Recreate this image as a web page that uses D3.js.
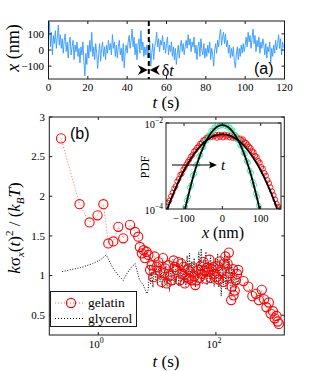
<!DOCTYPE html>
<html><head><meta charset="utf-8">
<script src="https://cdn.jsdelivr.net/npm/d3@7"></script>
<style>
body{margin:0;background:#fff}
svg{display:block}
text{font-family:"Liberation Serif","Times New Roman",serif;fill:#000}
</style>
</head><body>
<svg id="c" width="314" height="371"></svg>
<script>
// ---------- DATA ----------
// (a) trajectory x(t) in nm, sampled every 0.5 s from 0 to 120 s
const traceX = [
60,175,20,110,-30,90,40,120,10,80,
155,30,95,10,70,-20,60,100,-10,50,
-50,40,80,-30,20,60,-60,30,-10,50,
-40,10,-80,20,-30,50,-70,-160,-20,-90,
30,-50,60,-10,110,-40,20,-60,40,-20,
-115,-30,40,-70,10,50,-40,20,-60,30,
-20,60,0,40,-30,95,10,50,-40,30,
-50,20,60,-30,10,-70,40,-110,-10,30,
-20,50,90,10,60,130,20,80,-30,40,
-60,30,70,-20,120,0,50,-40,20,-30,
30,-50,10,60,-100,-20,40,-60,20,50,
110,20,70,-10,60,30,90,0,50,-20,
40,80,-30,30,-10,50,-40,20,-60,10,
-90,-20,30,-50,20,60,-10,40,-30,20,
60,10,95,30,70,-10,50,20,80,-20,
30,-60,20,50,-40,70,0,-30,40,-50,
10,-40,30,-20,50,-60,10,-30,-100,0,
40,-20,60,20,90,130,30,80,110,40,
100,20,60,-20,30,-50,10,-40,20,-70,
-110,-30,20,-60,10,-40,30,-20,40,-10,
30,80,20,110,50,90,10,70,130,40,
90,-10,60,20,80,-20,50,10,70,30,
-30,40,-50,20,-10,50,-80,10,-40,30,
-20,60,0,40,95,10,70,-30,50,20,
10];
const traceDt = 0.5;
const topXTicks = [0,20,40,60,80,100,120];
const topYTicks = [-100,0,100];
const topYLabels = ["\u2212100","0","100"];
const markT = 51;

// (b) gelatin
const gelT = [0.233,0.48,0.71,0.97,1.22,1.48,1.80,2.19,2.66,3.46,4.21,4.79,
5.1,5.5,5.9,6.2,6.6,7.1,7.6,8.1,8.6,9.1,9.8,10.5,11.2,12.0,12.6,13.2,13.8,14.5,15.5,16.6,17.8,19.1,20.0,21.4,22.9,24.5,25.7,26.9,28.2,29.5,31.6,33.1,34.7,36.3,38.9,40.7,42.7,44.7,46.8,50.1,52.5,55.0,57.5,61.7,64.6,67.6,70.8,74.1,77.6,81.3,85.1,91.2,95.5,102,107,112,117,126,132,138,145,151,158,166,174,182,186,195,200,209,219,229,240,
295,355,417,479,537,603,661,724,794,851,933,1000,1072,1122,1175];
const gelV = [2.73,1.90,1.67,1.76,1.90,1.405,1.43,1.615,1.47,1.64,1.55,1.49,
1.36,1.28,1.32,1.22,1.30,1.26,1.07,1.13,0.98,1.24,1.11,1.17,1.05,0.92,1.22,1.03,1.09,0.90,1.13,1.00,0.94,1.19,1.11,1.07,1.17,0.94,1.15,1.02,1.11,0.90,0.98,1.08,0.96,1.05,0.94,1.10,0.99,0.88,0.94,1.07,0.97,1.12,1.02,1.17,1.06,0.96,1.10,1.05,1.20,0.97,1.08,1.11,1.02,0.98,1.12,0.95,1.18,1.05,0.92,1.15,1.24,0.98,1.15,1.29,1.03,0.69,0.86,1.08,0.75,0.81,0.94,1.02,1.07,
0.93,0.86,0.74,0.77,0.69,0.82,0.70,0.60,0.66,0.52,0.55,0.46,0.49,0.42,0.39];

// (b) glycerol
const glyT = [0.243,0.50,0.80,1.10,1.36,1.75,2.2,2.65,3.1,3.7,4.24,5.0,5.8,6.7,
7.08,7.41,7.76,8.13,8.51,8.91,9.33,9.77,10.2,10.7,11.2,11.7,12.3,12.9,13.5,14.1,14.8,15.5,16.2,17.0,17.8,18.6,19.5,20.4,21.4,22.4,23.4,24.5,25.7,26.9,28.2,29.5,30.9,32.4,33.9,35.5,37.2,38.9,40.7,42.7,44.7,46.8,49.0,51.3,53.7,56.2,58.9,61.7,64.6,67.6,70.8,74.1,77.6,81.3,85.1,89.1,93.3,97.7,102,107,112,117,123,129,135,141,148,155,162,170,178,186,195,204,214,224,234,245];
const glyV = [1.05,1.10,1.15,1.20,1.26,1.10,1.00,0.94,1.03,1.11,1.15,0.95,0.88,0.77,
0.82,1.12,0.90,1.05,0.85,1.15,0.95,1.08,0.88,1.18,0.92,1.10,0.84,1.02,0.90,1.14,0.86,1.05,0.80,1.12,0.93,1.20,0.88,1.08,0.95,1.16,0.87,1.10,0.92,1.22,0.90,1.13,0.86,1.25,0.95,1.28,0.88,1.18,0.97,1.22,0.85,1.15,0.93,1.30,0.98,1.34,0.90,1.20,0.95,1.30,0.88,1.18,0.96,1.25,0.90,1.15,0.86,1.22,0.92,1.28,0.85,1.20,0.74,1.15,0.88,1.30,0.82,1.25,0.90,1.18,0.76,1.12,0.85,1.08,0.80,1.02,0.88,0.98];

const mainYTicks = [0.5,1,1.5,2,2.5,3];
const mainYLabels = ["0.5","1","1.5","2","2.5","3"];
const mainXTicks = [1,100];
const mainXExp = ["0","2"];
const seriesNames = ["gelatin","glycerol"];

// inset PDFs: x in nm, PDF values
const redX = [-150,-146,-142,-138,-134,-130,-126,-122,-118,-114,-110,-106,-102,-98,-94,-90,-86,-82,-78,-74,-70,-66,-62,-58,-54,-50,-46,-42,-38,-34,-30,-26,-22,-18,-14,-10,-6,-2,2,6,10,14,18,22,26,30,34,38,42,46,50,54,58,62,66,70,74,78,82,86,90,94,98,102,106,110,114,118,122,126,130,134,138,142,146,150,154];
const redP = [8.9e-5,1.17e-4,1.41e-4,1.58e-4,2.0e-4,2.4e-4,3.0e-4,3.4e-4,4.4e-4,5.0e-4,6.3e-4,6.6e-4,8.3e-4,9.3e-4,1.10e-3,1.26e-3,1.41e-3,1.66e-3,1.82e-3,2.19e-3,2.34e-3,2.69e-3,2.88e-3,3.31e-3,3.47e-3,3.98e-3,4.07e-3,4.57e-3,4.68e-3,5.0e-3,4.6e-3,5.2e-3,4.8e-3,5.3e-3,4.5e-3,5.4e-3,4.7e-3,5.3e-3,4.6e-3,5.4e-3,4.8e-3,5.2e-3,4.6e-3,5.1e-3,4.5e-3,4.9e-3,4.4e-3,4.7e-3,4.2e-3,4.4e-3,3.98e-3,4.17e-3,3.63e-3,3.47e-3,3.16e-3,2.82e-3,2.63e-3,2.24e-3,2.09e-3,1.74e-3,1.62e-3,1.32e-3,1.20e-3,9.5e-4,8.7e-4,6.9e-4,6.0e-4,4.7e-4,4.0e-4,3.2e-4,2.6e-4,2.1e-4,1.66e-4,1.32e-4,1.12e-4,9.5e-5,1.05e-4];
const greenX = [-97,-93,-89,-85,-81,-77,-73,-69,-65,-61,-57,-53,-49,-45,-41,-37,-33,-29,-25,-21,-17,-13,-9,-5,-1,3,7,11,15,19,23,27,31,35,39,43,47,51,55,59,63,67,71,75,79,83,87,91,95];
const greenP = [1.12e-4,1.58e-4,1.91e-4,3.16e-4,3.63e-4,6.0e-4,6.6e-4,1.05e-3,1.12e-3,1.66e-3,1.82e-3,2.63e-3,2.75e-3,3.80e-3,3.89e-3,5.13e-3,5.13e-3,6.61e-3,6.46e-3,7.94e-3,7.59e-3,9.12e-3,8.32e-3,9.77e-3,8.71e-3,9.55e-3,8.51e-3,8.91e-3,7.76e-3,7.94e-3,6.61e-3,6.76e-3,5.37e-3,5.25e-3,4.07e-3,3.98e-3,3.02e-3,2.82e-3,2.04e-3,1.91e-3,1.32e-3,1.20e-3,7.9e-4,6.9e-4,4.4e-4,3.6e-4,2.3e-4,1.91e-4,1.2e-4];
const fitWideX = [-150,-145,-130,-120,-110,-100,-90,-80,-70,-60,-50,-40,-30,-20,-10,0,10,20,30,40,50,60,70,80,90,100,110,120,130,142,148];
const fitWideP = [6.9e-5,9.2e-5,2.05e-4,3.33e-4,5.22e-4,7.85e-4,1.135e-3,1.58e-3,2.12e-3,2.73e-3,3.38e-3,4.03e-3,4.61e-3,5.08e-3,5.39e-3,5.50e-3,5.39e-3,5.08e-3,4.61e-3,4.03e-3,3.38e-3,2.73e-3,2.12e-3,1.58e-3,1.135e-3,7.85e-4,5.22e-4,3.33e-4,2.05e-4,1.09e-4,7.7e-5];
const fitNarrowX = [-102,-95,-90,-80,-70,-60,-50,-40,-30,-20,-10,0,10,20,30,40,50,60,70,80,90,95,102];
const fitNarrowP = [6.2e-5,1.2e-4,1.87e-4,4.2e-4,8.6e-4,1.6e-3,2.7e-3,4.15e-3,5.8e-3,7.36e-3,8.5e-3,8.91e-3,8.5e-3,7.36e-3,5.8e-3,4.15e-3,2.7e-3,1.6e-3,8.6e-4,4.2e-4,1.87e-4,1.2e-4,6.2e-5];
const insetXTicks = [-100,0,100];
const insetXLabels = ["\u2212100","0","100"];
const insetYTicks = [1e-4,1e-2];
const insetYExp = ["\u22124","\u22122"];

// ---------- DRAW ----------
const svg = d3.select("#c");
const AX = "#1a1a1a";
const defs = svg.append("defs");

// ===== Panel (a) =====
const xA = d3.scaleLinear([0,120],[48.5,284.5]);
const yA = d3.scaleLinear([-180,180],[79,21]);
defs.append("clipPath").attr("id","clipA").append("rect")
  .attr("x",48.5).attr("y",21).attr("width",236).attr("height",58);
const gA = svg.append("g");
const traceT = traceX.map((_, i) => i * traceDt);
gA.append("path").attr("clip-path","url(#clipA)")
  .attr("d", d3.line().x((d,i)=>xA(traceT[i])).y(d=>yA(d))(traceX))
  .attr("fill","none").attr("stroke","#3399ff").attr("stroke-width",0.9);
gA.append("rect").attr("x",48.5).attr("y",21).attr("width",236).attr("height",58)
  .attr("fill","none").attr("stroke",AX).attr("stroke-width",1);
topXTicks.forEach(t=>{
  gA.append("line").attr("x1",xA(t)).attr("x2",xA(t)).attr("y1",79).attr("y2",76).attr("stroke",AX);
  gA.append("line").attr("x1",xA(t)).attr("x2",xA(t)).attr("y1",21).attr("y2",24).attr("stroke",AX);
  gA.append("text").attr("x",xA(t)).attr("y",91).attr("text-anchor","middle").attr("font-size",11).text(t);
});
topYTicks.forEach((v,i)=>{
  gA.append("line").attr("x1",48.5).attr("x2",51.5).attr("y1",yA(v)).attr("y2",yA(v)).attr("stroke",AX);
  gA.append("line").attr("x1",284.5).attr("x2",281.5).attr("y1",yA(v)).attr("y2",yA(v)).attr("stroke",AX);
  gA.append("text").attr("x",44).attr("y",yA(v)+3.8).attr("text-anchor","end").attr("font-size",11).text(topYLabels[i]);
});
gA.append("line").attr("x1",xA(markT)).attr("x2",xA(markT)).attr("y1",21).attr("y2",79)
  .attr("stroke","#000").attr("stroke-width",2).attr("stroke-dasharray","5,3");
const ay = 70, ax = xA(markT);
gA.append("path").attr("d",`M${ax-1},${ay} L${ax-11},${ay-5} L${ax-8},${ay} L${ax-11},${ay+5} Z`).attr("fill","#000");
gA.append("path").attr("d",`M${ax+1},${ay} L${ax+11},${ay-5} L${ax+8},${ay} L${ax+11},${ay+5} Z`).attr("fill","#000");
const dt = gA.append("text").attr("x",ax+13).attr("y",ay+5.5).attr("font-size",16);
dt.append("tspan").text("\u03b4");
dt.append("tspan").attr("font-style","italic").text("t");
gA.append("text").attr("x",254).attr("y",74).attr("font-size",16)
  .style("font-family","'Liberation Sans',Arial,sans-serif").text("(a)");
const ylA = gA.append("text").attr("transform","translate(19,48) rotate(-90)").attr("text-anchor","middle").attr("font-size",18);
ylA.append("tspan").attr("font-style","italic").text("x");
ylA.append("tspan").text(" (nm)");
const xlA = gA.append("text").attr("x",166).attr("y",108).attr("text-anchor","middle").attr("font-size",17);
xlA.append("tspan").attr("font-style","italic").text("t");
xlA.append("tspan").text(" (s)");

// ===== Panel (b) =====
const xB = d3.scaleLog([Math.pow(10,-0.833), Math.pow(10,3.163)],[49.3,284.3]);
const yB = d3.scaleLinear([0.25,3],[335,117]);
defs.append("clipPath").attr("id","clipB").append("rect")
  .attr("x",49.3).attr("y",117).attr("width",235).attr("height",218);
const gB = svg.append("g");
const gBc = gB.append("g").attr("clip-path","url(#clipB)");
gBc.append("path").attr("d", d3.line().x((d,i)=>xB(glyT[i])).y(d=>yB(d))(glyV))
  .attr("fill","none").attr("stroke","#000").attr("stroke-width",1).attr("stroke-dasharray","1,1.6");
gBc.append("path").attr("d", d3.line().x((d,i)=>xB(gelT[i])).y(d=>yB(d))(gelV))
  .attr("fill","none").attr("stroke","#ff6666").attr("stroke-width",1).attr("stroke-dasharray","1,2");
gBc.selectAll("circle.gel").data(gelV).enter().append("circle")
  .attr("cx",(d,i)=>xB(gelT[i])).attr("cy",d=>yB(d)).attr("r",4.6)
  .attr("fill","none").attr("stroke","#ff0000").attr("stroke-width",1.1);
gB.append("rect").attr("x",49.3).attr("y",117).attr("width",235).attr("height",218)
  .attr("fill","none").attr("stroke",AX).attr("stroke-width",1);
mainYTicks.forEach((v,i)=>{
  gB.append("line").attr("x1",49.3).attr("x2",52.3).attr("y1",yB(v)).attr("y2",yB(v)).attr("stroke",AX);
  gB.append("line").attr("x1",284.3).attr("x2",281.3).attr("y1",yB(v)).attr("y2",yB(v)).attr("stroke",AX);
  gB.append("text").attr("x",45).attr("y",yB(v)+3.8).attr("text-anchor","end").attr("font-size",11).text(mainYLabels[i]);
});
mainXTicks.forEach((t,i)=>{
  gB.append("line").attr("x1",xB(t)).attr("x2",xB(t)).attr("y1",335).attr("y2",332).attr("stroke",AX);
  gB.append("line").attr("x1",xB(t)).attr("x2",xB(t)).attr("y1",117).attr("y2",120).attr("stroke",AX);
  const tx = gB.append("text").attr("x",xB(t)-2).attr("y",347.5).attr("text-anchor","middle").attr("font-size",11);
  tx.append("tspan").text("10");
  tx.append("tspan").attr("font-size",8).attr("dy",-5).text(mainXExp[i]);
});
gB.append("text").attr("x",70).attr("y",139).attr("font-size",16)
  .style("font-family","'Liberation Sans',Arial,sans-serif").text("(b)");
const ylB = gB.append("text").attr("transform","translate(20,228) rotate(-90)").attr("text-anchor","middle").attr("font-size",17);
ylB.append("tspan").attr("font-style","italic").text("k");
ylB.append("tspan").text("\u03c3");
ylB.append("tspan").attr("font-style","italic").attr("font-size",11).attr("dy",4).text("x");
ylB.append("tspan").attr("dy",-4).text("(");
ylB.append("tspan").attr("font-style","italic").text("t");
ylB.append("tspan").text(")");
ylB.append("tspan").attr("font-size",11).attr("dy",-7).text("2");
ylB.append("tspan").attr("dy",7).text(" / (");
ylB.append("tspan").attr("font-style","italic").text("k");
ylB.append("tspan").attr("font-style","italic").attr("font-size",11).attr("dy",4).text("B");
ylB.append("tspan").attr("font-style","italic").attr("dy",-4).text("T");
ylB.append("tspan").text(")");
const xlB = gB.append("text").attr("x",166).attr("y",367).attr("text-anchor","middle").attr("font-size",17);
xlB.append("tspan").attr("font-style","italic").text("t");
xlB.append("tspan").text(" (s)");

const lg = gB.append("g");
lg.append("rect").attr("x",50.5).attr("y",291.5).attr("width",86).attr("height",35)
  .attr("fill","#fff").attr("stroke",AX).attr("stroke-width",1);
lg.append("line").attr("x1",55).attr("x2",85).attr("y1",303).attr("y2",303)
  .attr("stroke","#ff6666").attr("stroke-dasharray","1,2");
lg.append("circle").attr("cx",71).attr("cy",303).attr("r",4.6).attr("fill","none").attr("stroke","#ff0000").attr("stroke-width",1.1);
lg.append("line").attr("x1",55).attr("x2",85).attr("y1",318.5).attr("y2",318.5)
  .attr("stroke","#000").attr("stroke-dasharray","1,2");
lg.append("text").attr("x",88).attr("y",307).attr("font-size",13.5).text(seriesNames[0]);
lg.append("text").attr("x",88).attr("y",322.5).attr("font-size",13.5).text(seriesNames[1]);

// ===== Inset =====
const xI = d3.scaleLinear([-147,153],[166,281]);
const yI = d3.scaleLog([1e-4,1e-2],[209,123]);
defs.append("clipPath").attr("id","clipI").append("rect")
  .attr("x",166).attr("y",123).attr("width",115).attr("height",86);
const gI = svg.append("g");
gI.append("rect").attr("x",166).attr("y",123).attr("width",115).attr("height",86).attr("fill","#fff");
const gIc = gI.append("g").attr("clip-path","url(#clipI)");
gIc.selectAll("circle.r").data(redP).enter().append("circle")
  .attr("cx",(d,i)=>xI(redX[i])).attr("cy",d=>yI(d)).attr("r",2.4)
  .attr("fill","none").attr("stroke","#ff0000").attr("stroke-width",0.9);
gIc.selectAll("circle.g").data(greenP).enter().append("circle")
  .attr("cx",(d,i)=>xI(greenX[i])).attr("cy",d=>yI(d)).attr("r",2.4)
  .attr("fill","none").attr("stroke","#3fe6a8").attr("stroke-width",1);
gIc.append("path").attr("d", d3.line().curve(d3.curveCatmullRom).x((d,i)=>xI(fitWideX[i])).y(d=>yI(d))(fitWideP))
  .attr("fill","none").attr("stroke","#000").attr("stroke-width",1.8);
gIc.append("path").attr("d", d3.line().curve(d3.curveCatmullRom).x((d,i)=>xI(fitNarrowX[i])).y(d=>yI(d))(fitNarrowP))
  .attr("fill","none").attr("stroke","#000").attr("stroke-width",1.8);
gI.append("rect").attr("x",166).attr("y",123).attr("width",115).attr("height",86)
  .attr("fill","none").attr("stroke",AX).attr("stroke-width",1);
insetXTicks.forEach((v,i)=>{
  gI.append("line").attr("x1",xI(v)).attr("x2",xI(v)).attr("y1",209).attr("y2",206).attr("stroke",AX);
  gI.append("line").attr("x1",xI(v)).attr("x2",xI(v)).attr("y1",123).attr("y2",126).attr("stroke",AX);
  gI.append("text").attr("x",xI(v)).attr("y",222).attr("text-anchor","middle").attr("font-size",10.5).text(insetXLabels[i]);
});
insetYTicks.forEach((v,i)=>{
  gI.append("line").attr("x1",166).attr("x2",169).attr("y1",yI(v)).attr("y2",yI(v)).attr("stroke",AX);
  gI.append("line").attr("x1",281).attr("x2",278).attr("y1",yI(v)).attr("y2",yI(v)).attr("stroke",AX);
  const tx = gI.append("text").attr("x",163).attr("y",yI(v)+4.5).attr("text-anchor","end").attr("font-size",10.5);
  tx.append("tspan").text("10");
  tx.append("tspan").attr("font-size",7.5).attr("dy",-5).text(insetYExp[i]);
});
gI.append("text").attr("transform","translate(149,167) rotate(-90)").attr("text-anchor","middle").attr("font-size",12.5).text("PDF");
const xlI = gI.append("text").attr("x",223).attr("y",237.5).attr("text-anchor","middle").attr("font-size",16);
xlI.append("tspan").attr("font-style","italic").text("x");
xlI.append("tspan").text(" (nm)");
gI.append("line").attr("x1",172).attr("x2",212).attr("y1",165).attr("y2",165).attr("stroke","#000").attr("stroke-width",1.2);
gI.append("path").attr("d","M217,165 L209,161.5 L210.5,165 L209,168.5 Z").attr("fill","#000");
gI.append("text").attr("x",221).attr("y",170).attr("font-size",15).attr("font-style","italic").text("t");
</script>
</body></html>
